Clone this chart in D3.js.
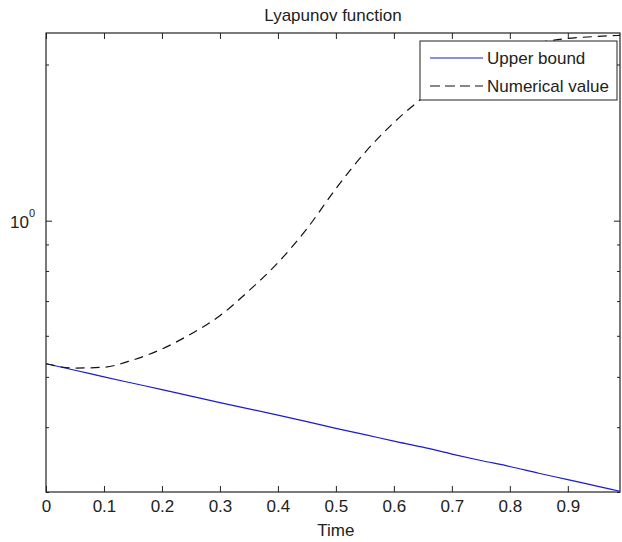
<!DOCTYPE html>
<html>
<head>
<meta charset="utf-8">
<script src="https://cdn.jsdelivr.net/npm/d3@7"></script>
<style>
  body { margin: 0; background: #fff; }
  svg text { font-family: "Liberation Sans", Arial, sans-serif; fill: #222; }
  .axis path, .axis line { stroke: #222; }
</style>
</head>
<body>
<svg id="chart"></svg>
<script>
// values
var timeValues = [0, 0.05, 0.1, 0.15, 0.2, 0.25, 0.3, 0.35, 0.4, 0.45, 0.5, 0.55, 0.6, 0.65, 0.7, 0.75, 0.8, 0.85, 0.9, 0.95, 0.99];
var upperBound = [0.530, 0.515, 0.500, 0.486, 0.4725, 0.459, 0.446, 0.434, 0.422, 0.410, 0.398, 0.387, 0.376, 0.366, 0.355, 0.345, 0.336, 0.326, 0.317, 0.308, 0.301];
var numericalValue = [0.530, 0.520, 0.522, 0.539, 0.566, 0.605, 0.656, 0.733, 0.830, 0.965, 1.153, 1.353, 1.546, 1.727, 1.905, 2.054, 2.148, 2.206, 2.245, 2.265, 2.276];
var xTicks = [0, 0.1, 0.2, 0.3, 0.4, 0.5, 0.6, 0.7, 0.8, 0.9];
var yMajorTicks = [1];
var yMinorTicks = [0.3, 0.4, 0.5, 0.6, 0.7, 0.8, 0.9, 2];
var seriesNames = ["Upper bound", "Numerical value"];

var width = 622, height = 542;
var margin = {top: 33, right: 2, bottom: 50, left: 46};

var svg = d3.select("#chart").attr("width", width).attr("height", height);

var x = d3.scaleLinear().domain([0, 0.99]).range([margin.left, width - margin.right]);
var y = d3.scaleLog().domain([0.3, 2.3]).range([height - margin.bottom, margin.top]);

svg.append("defs").append("clipPath").attr("id", "clip")
  .append("rect")
  .attr("x", margin.left).attr("y", margin.top)
  .attr("width", width - margin.left - margin.right)
  .attr("height", height - margin.top - margin.bottom);

var line = d3.line()
  .x(function(d, i) { return x(timeValues[i]); })
  .y(function(d) { return y(d); })
  .curve(d3.curveMonotoneX);

var plot = svg.append("g").attr("clip-path", "url(#clip)");

plot.append("path")
  .datum(upperBound)
  .attr("d", line)
  .attr("fill", "none")
  .attr("stroke", "#1a1ad8")
  .attr("stroke-width", 1.2);

plot.append("path")
  .datum(numericalValue)
  .attr("d", line)
  .attr("fill", "none")
  .attr("stroke", "#111")
  .attr("stroke-width", 1.2)
  .attr("stroke-dasharray", "9,6");

// axes, ticks inside like matlab
var bottom = height - margin.bottom;
svg.append("g").attr("class", "axis")
  .attr("transform", "translate(0," + bottom + ")")
  .call(d3.axisBottom(x).tickValues(xTicks).tickSizeInner(-6).tickSizeOuter(0).tickPadding(8)
    .tickFormat(function(d) { return d; }))
  .call(function(g) { g.select(".domain").remove(); })
  .selectAll("text").style("font-size", "17px").style("font-family", null);

svg.append("g").attr("class", "axis")
  .attr("transform", "translate(0," + margin.top + ")")
  .call(d3.axisTop(x).tickValues(xTicks).tickSizeInner(-6).tickSizeOuter(0).tickFormat(""))
  .call(function(g) { g.select(".domain").remove(); });

[[d3.axisLeft, margin.left], [d3.axisRight, width - margin.right]].forEach(function(a) {
  svg.append("g").attr("class", "axis")
    .attr("transform", "translate(" + a[1] + ",0)")
    .call(a[0](y).tickValues(yMajorTicks).tickSizeInner(-6).tickSizeOuter(0).tickFormat(""))
    .call(function(g) { g.select(".domain").remove(); });
  svg.append("g").attr("class", "axis")
    .attr("transform", "translate(" + a[1] + ",0)")
    .call(a[0](y).tickValues(yMinorTicks).tickSizeInner(-3).tickSizeOuter(0).tickFormat(""))
    .call(function(g) { g.select(".domain").remove(); });
});

// 10^0 label
yMajorTicks.forEach(function(v) {
  svg.append("text")
    .attr("x", 29)
    .attr("y", y(v) + 7)
    .attr("text-anchor", "end")
    .style("font-size", "17px")
    .text("10");
  svg.append("text")
    .attr("x", 29)
    .attr("y", y(v) - 4)
    .style("font-size", "11px")
    .text(Math.round(Math.log10(v)));
});

// box
svg.append("rect")
  .attr("x", margin.left).attr("y", margin.top)
  .attr("width", width - margin.left - margin.right)
  .attr("height", height - margin.top - margin.bottom)
  .attr("fill", "none")
  .attr("stroke", "#222")
  .attr("stroke-width", 1.2);

svg.append("text")
  .attr("x", (margin.left + width - margin.right) / 2)
  .attr("y", 21)
  .attr("text-anchor", "middle")
  .style("font-size", "17px")
  .text("Lyapunov function");

svg.append("text")
  .attr("x", x(0.5))
  .attr("y", 536)
  .attr("text-anchor", "middle")
  .style("font-size", "17px")
  .text("Time");

// legend
var legend = svg.append("g").attr("transform", "translate(420,41)");
legend.append("rect")
  .attr("width", 197).attr("height", 59)
  .attr("fill", "#fff").attr("stroke", "#222").attr("stroke-width", 1);

var styles = [{stroke: "#1a1ad8", dash: null}, {stroke: "#111", dash: "10,5"}];
seriesNames.forEach(function(name, i) {
  var ly = 17 + i * 28;
  legend.append("line")
    .attr("x1", 10).attr("x2", 63).attr("y1", ly).attr("y2", ly)
    .attr("stroke", styles[i].stroke)
    .attr("stroke-width", 1.2)
    .attr("stroke-dasharray", styles[i].dash);
  legend.append("text")
    .attr("x", 67).attr("y", ly + 6)
    .style("font-size", "17px")
    .text(name);
});
</script>
</body>
</html>
